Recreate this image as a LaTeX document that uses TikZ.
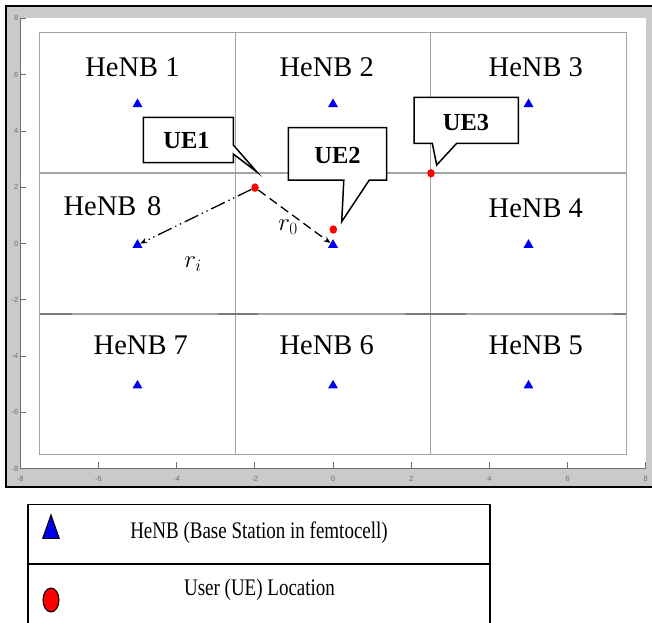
\documentclass[tikz,border=0pt]{standalone}
\usepackage{fontspec}
\setmainfont{Liberation Serif}
\newfontfamily\axisfont{Liberation Sans}
\usetikzlibrary{shapes.geometric,arrows.meta}
\definecolor{framegray}{HTML}{CACACA}
\definecolor{gridgray}{HTML}{A3A3A3}
\definecolor{darkseg}{HTML}{7A7A7A}
\definecolor{axisgray}{HTML}{6E6E6E}
\definecolor{bsblue}{HTML}{0000F0}
\definecolor{uered}{HTML}{FF0000}
\begin{document}
\begin{tikzpicture}[x=1pt,y=-1pt,
  henb/.style={regular polygon,regular polygon sides=3,fill=bsblue,minimum size=11.5pt,inner sep=0pt},
  uedot/.style={ellipse,fill=uered,minimum width=7.5pt,minimum height=8.5pt,inner sep=0pt},
  cell/.style={font=\fontsize{28.5}{30}\selectfont,anchor=base,inner sep=0pt},
  calloutbox/.style={draw=black,line width=1.5pt,fill=white,line join=miter},
  uelabel/.style={font=\bfseries\fontsize{24.5}{26}\selectfont,inner sep=0pt},
  ticklbl/.style={font=\axisfont\fontsize{7.5}{8}\selectfont,text=axisgray,inner sep=0pt},
  legtext/.style={font=\fontsize{19}{21}\selectfont,inner sep=0pt},
  rlabel/.style={font=\fontsize{25}{26}\selectfont,inner sep=0pt}]
\useasboundingbox (0,0) rectangle (652,622);
% frame
\fill[framegray] (6,6) rectangle (660,487);
\draw[black,line width=2pt] (660,6) -- (6,6) -- (6,487) -- (660,487);
\fill[white] (20.5,18.3) rectangle (646,468.7);
\draw[axisgray,line width=0.9pt] (20.5,18.3) -- (20.5,468.7) -- (646,468.7);
% ticks and tick labels
\foreach \v/\yy in {8/18.3,6/74.6,4/130.9,2/187.2,0/243.5,-2/299.8,-4/356.1,-6/412.4,-8/468.7}{
  \draw[axisgray,line width=0.8pt] (20.5,\yy) -- (25.5,\yy);
  \node[ticklbl,anchor=east] (yl\v) at (18.5,\yy) {\v};
}
\foreach \v/\xx in {-8/20.2,-6/98.4,-4/176.6,-2/254.8,0/333,2/411.2,4/489.4,6/567.6,8/645.8}{
  \draw[axisgray,line width=0.8pt] (\xx,468.7) -- (\xx,462);
  \node[ticklbl] (xl\v) at (\xx,479) {\v};
}
% grid
\draw[gridgray,line width=1.3pt] (39.75,32.4) rectangle (626.25,454.6);
\draw[gridgray,line width=1.3pt] (235.25,32.4) -- (235.25,454.6);
\draw[gridgray,line width=1.3pt] (430.75,32.4) -- (430.75,454.6);
\draw[gridgray,line width=1.3pt] (39.75,173.1) -- (626.25,173.1);
\draw[gridgray,line width=1.3pt] (39.75,313.9) -- (626.25,313.9);
\foreach \a/\b in {39.75/71.7,218/257.7,405/465.7,613/626.25}
  \draw[darkseg,line width=1.3pt] (\a,313.9) -- (\b,313.9);
% cell labels
\node[cell] (l1) at (132.5,76.7) {HeNB 1};
\node[cell] (l2) at (326.7,76.7) {HeNB 2};
\node[cell] (l3) at (535.8,76.7) {HeNB 3};
\node[cell] (l8) at (112.5,215.5) {HeNB\hspace{0.38em}8};
\node[cell] (l4) at (535.8,217.3) {HeNB 4};
\node[cell] (l7) at (140.8,354) {HeNB 7};
\node[cell] (l6) at (326.7,354) {HeNB 6};
\node[cell] (l5) at (535.8,354) {HeNB 5};
% base stations
\node[henb] (h1) at (137.5,104.2) {};
\node[henb] (h2) at (333,104.2) {};
\node[henb] (h3) at (528.5,104.2) {};
\node[henb] (h8) at (137.5,244.9) {};
\node[henb] (h0) at (333,244.9) {};
\node[henb] (h4) at (528.5,244.9) {};
\node[henb] (h7) at (137.5,385.6) {};
\node[henb] (h6) at (333,385.6) {};
\node[henb] (h5) at (528.5,385.6) {};
% users
\node[uedot] (ue1) at (255,187.6) {};
\node[uedot] (ue2) at (333.3,229.5) {};
\node[uedot] (ue3) at (431,173.3) {};
% distance lines
\draw[line width=1.3pt,dash pattern=on 9pt off 5pt,-{Stealth[length=7pt,width=5.5pt]}] (ue1) -- (h0);
\draw[line width=1.3pt,dash pattern=on 15pt off 4pt on 1.3pt off 4pt on 1.3pt off 4pt,-{Stealth[length=7pt,width=5.5pt]}] (ue1) -- (h8);
\node[rlabel] (r0) at (288,227) {$r_0$};
\node[rlabel] (ri) at (193,264) {$r_i$};
% callouts
\draw[calloutbox] (143.3,117.3) -- (233.3,117.3) -- (233.3,145) -- (256.7,171.8) -- (233.3,154) -- (233.3,162.5) -- (143.3,162.5) -- cycle;
\node[uelabel] (c1) at (186.5,141) {UE1};
\draw[calloutbox] (288.3,127.7) -- (386.7,127.7) -- (386.7,180) -- (369.3,180) -- (341.7,221.7) -- (343.8,180) -- (288.3,180) -- cycle;
\node[uelabel] (c2) at (337.5,155) {UE2};
\draw[calloutbox] (414,97.3) -- (518.3,97.3) -- (518.3,143.3) -- (456.7,143.3) -- (436.7,165) -- (432.3,143.3) -- (414,143.3) -- cycle;
\node[uelabel] (c3) at (466,123) {UE3};
% legend
\draw[black,line width=1.2pt] (28,630) -- (28,504.3) -- (490,504.3) -- (490,630);
\draw[black,line width=1.2pt] (28,564) -- (490,564);
\node[regular polygon,regular polygon sides=3,draw=black,line width=1pt,fill=bsblue,inner sep=0pt,minimum size=19pt,yscale=1.65,transform shape] (legbs) at (51,530.5) {};
\node[legtext] (legt1) at (259,533) {\scalebox{1}[1.25]{HeNB (Base Station in femtocell)}};
\node[ellipse,draw=black,line width=1pt,fill=uered,minimum width=16pt,minimum height=24pt,inner sep=0pt] (legue) at (51,600) {};
\node[legtext] (legt2) at (259.5,590) {\scalebox{1}[1.25]{User (UE) Location}};
\end{tikzpicture}
\end{document}
